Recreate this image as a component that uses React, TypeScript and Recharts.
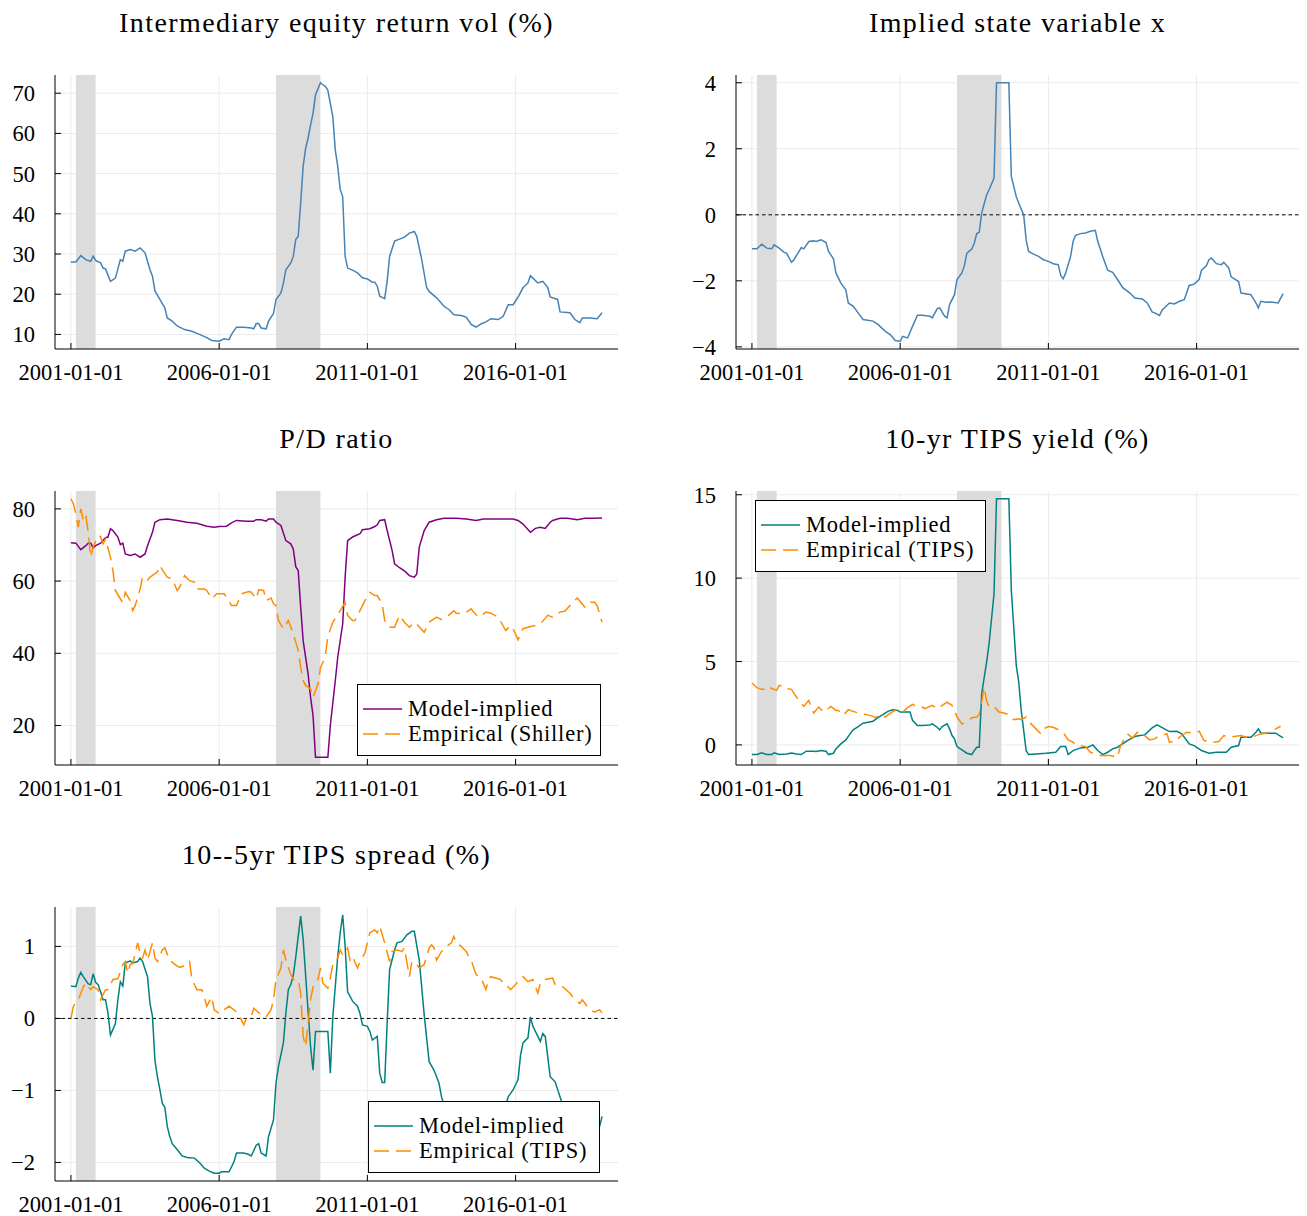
import { LineChart, Line, XAxis, YAxis, CartesianGrid, ReferenceArea, ReferenceLine } from 'recharts'

type Obs = [string, number]

// NBER recessions (start, end)
const recessions: [string, string][] = [
  ['2001-03', '2001-11'],
  ['2007-12', '2009-06'],
]

const dateTicks = ['2001-01', '2006-01', '2011-01', '2016-01']

const equityVol: Obs[] = [
  ['2001-01', 28.0], ['2001-03', 28.0], ['2001-05', 29.6], ['2001-07', 28.6], ['2001-09', 28.2], ['2001-10', 29.5], ['2001-11', 28.4],
  ['2002-01', 27.8], ['2002-02', 26.5], ['2002-03', 26.3], ['2002-05', 23.2], ['2002-07', 24.0], ['2002-09', 28.6], ['2002-10', 28.2], ['2002-11', 30.7],
  ['2003-01', 31.1], ['2003-03', 30.7], ['2003-05', 31.5], ['2003-07', 30.3], ['2003-09', 26.1], ['2003-10', 24.5], ['2003-11', 20.8],
  ['2004-01', 18.7], ['2004-03', 16.6], ['2004-04', 14.1], ['2004-06', 13.3], ['2004-08', 12.1], ['2004-11', 11.2],
  ['2005-02', 10.8], ['2005-05', 10.0], ['2005-08', 9.2], ['2005-10', 8.5],
  ['2006-01', 8.3], ['2006-03', 8.9], ['2006-05', 8.7], ['2006-06', 10.0], ['2006-08', 11.8], ['2006-11', 11.8],
  ['2007-02', 11.6], ['2007-03', 11.4], ['2007-04', 12.7], ['2007-05', 12.7], ['2007-06', 11.6], ['2007-08', 11.4], ['2007-09', 13.3], ['2007-11', 15.2], ['2007-12', 18.7],
  ['2008-02', 20.3], ['2008-03', 22.7], ['2008-04', 26.1], ['2008-06', 27.8], ['2008-07', 29.4], ['2008-08', 33.6], ['2008-09', 34.4], ['2008-10', 42.7], ['2008-11', 51.8], ['2008-12', 56.3],
  ['2009-01', 58.8], ['2009-02', 62.1], ['2009-03', 65.0], ['2009-04', 69.6], ['2009-06', 72.6], ['2009-07', 72.1], ['2009-08', 71.7], ['2009-09', 70.7], ['2009-11', 64.2], ['2009-12', 55.9],
  ['2010-01', 51.8], ['2010-02', 46.0], ['2010-03', 44.3], ['2010-04', 29.4], ['2010-05', 26.5], ['2010-07', 26.0], ['2010-09', 25.3], ['2010-11', 24.1],
  ['2011-01', 23.8], ['2011-03', 23.0], ['2011-04', 23.0], ['2011-05', 22.0], ['2011-06', 19.5], ['2011-08', 18.9], ['2011-09', 23.2], ['2011-10', 29.4], ['2011-12', 33.2],
  ['2012-02', 33.7], ['2012-04', 34.2], ['2012-06', 35.2], ['2012-08', 35.6], ['2012-09', 34.4], ['2012-11', 28.6],
  ['2013-01', 21.6], ['2013-02', 20.7], ['2013-05', 19.1], ['2013-08', 17.0], ['2013-10', 16.2], ['2013-12', 14.9],
  ['2014-03', 14.7], ['2014-05', 14.3], ['2014-07', 12.5], ['2014-09', 11.8], ['2014-11', 12.6],
  ['2015-01', 13.1], ['2015-03', 13.9], ['2015-06', 13.7], ['2015-08', 14.5], ['2015-10', 17.4], ['2015-12', 17.4],
  ['2016-02', 19.3], ['2016-04', 21.6], ['2016-06', 22.8], ['2016-07', 24.6], ['2016-08', 24.0], ['2016-10', 22.8], ['2016-12', 23.2],
  ['2017-02', 21.7], ['2017-03', 19.3], ['2017-06', 18.7], ['2017-07', 15.6], ['2017-11', 15.4],
  ['2018-01', 13.7], ['2018-03', 12.9], ['2018-04', 14.1], ['2018-07', 14.1], ['2018-10', 13.9], ['2018-12', 15.4],
]

const stateX: Obs[] = [
  ['2001-01', -1.03], ['2001-03', -1.03], ['2001-05', -0.89], ['2001-07', -1.01], ['2001-09', -1.03], ['2001-10', -0.91], ['2001-12', -1.01],
  ['2002-02', -1.14], ['2002-03', -1.16], ['2002-05', -1.44], ['2002-06', -1.36], ['2002-09', -0.99], ['2002-10', -1.03], ['2002-12', -0.81],
  ['2003-02', -0.79], ['2003-03', -0.81], ['2003-05', -0.76], ['2003-07', -0.84], ['2003-08', -1.11], ['2003-10', -1.33], ['2003-11', -1.76],
  ['2004-01', -2.07], ['2004-03', -2.27], ['2004-04', -2.67], ['2004-06', -2.77], ['2004-08', -2.97], ['2004-10', -3.17],
  ['2005-02', -3.22], ['2005-04', -3.32], ['2005-07', -3.53], ['2005-09', -3.63], ['2005-11', -3.81],
  ['2006-01', -3.83], ['2006-02', -3.68], ['2006-04', -3.73], ['2006-06', -3.38], ['2006-08', -3.04], ['2006-10', -3.04],
  ['2007-01', -3.07], ['2007-02', -3.12], ['2007-04', -2.84], ['2007-05', -2.82], ['2007-07', -3.07], ['2007-08', -3.12], ['2007-09', -2.72], ['2007-11', -2.42], ['2007-12', -1.96],
  ['2008-02', -1.76], ['2008-03', -1.54], ['2008-04', -1.16], ['2008-06', -1.04], ['2008-07', -0.86], ['2008-08', -0.57], ['2008-09', -0.53], ['2008-10', 0.06], ['2008-12', 0.60],
  ['2009-01', 0.76], ['2009-03', 1.11], ['2009-04', 4.0], ['2009-09', 4.0], ['2009-10', 1.16], ['2009-12', 0.55],
  ['2010-01', 0.35], ['2010-03', 0.0], ['2010-04', -0.76], ['2010-05', -1.11], ['2010-07', -1.19], ['2010-09', -1.26], ['2010-11', -1.36],
  ['2011-01', -1.41], ['2011-03', -1.48], ['2011-05', -1.51], ['2011-06', -1.84], ['2011-07', -1.94], ['2011-08', -1.76], ['2011-10', -1.26], ['2011-11', -0.81], ['2011-12', -0.62],
  ['2012-02', -0.57], ['2012-04', -0.55], ['2012-06', -0.50], ['2012-08', -0.47], ['2012-09', -0.81], ['2012-11', -1.26],
  ['2013-01', -1.68], ['2013-03', -1.74], ['2013-05', -1.96], ['2013-07', -2.20], ['2013-10', -2.37], ['2013-12', -2.52],
  ['2014-03', -2.55], ['2014-05', -2.67], ['2014-07', -2.94], ['2014-08', -2.97], ['2014-10', -3.05], ['2014-11', -2.89],
  ['2015-02', -2.67], ['2015-04', -2.70], ['2015-06', -2.62], ['2015-08', -2.57], ['2015-10', -2.14], ['2015-12', -2.10],
  ['2016-02', -1.96], ['2016-03', -1.68], ['2016-05', -1.54], ['2016-06', -1.36], ['2016-07', -1.31], ['2016-09', -1.48], ['2016-11', -1.51], ['2016-12', -1.44],
  ['2017-02', -1.61], ['2017-03', -1.88], ['2017-06', -2.02], ['2017-07', -2.37], ['2017-11', -2.42],
  ['2018-01', -2.67], ['2018-02', -2.82], ['2018-03', -2.62], ['2018-05', -2.65], ['2018-07', -2.64], ['2018-10', -2.67], ['2018-12', -2.39],
]

const pdModel: Obs[] = [
  ['2001-01', 70.6], ['2001-03', 70.5], ['2001-05', 68.7], ['2001-07', 69.8], ['2001-08', 70.5], ['2001-09', 70.5], ['2001-10', 69.2], ['2001-11', 69.8],
  ['2002-01', 70.5], ['2002-03', 72.0], ['2002-04', 72.2], ['2002-05', 74.5], ['2002-06', 74.0], ['2002-08', 72.2], ['2002-09', 70.1], ['2002-10', 70.5], ['2002-11', 67.5],
  ['2003-01', 67.1], ['2003-03', 67.5], ['2003-05', 66.6], ['2003-07', 67.5], ['2003-08', 69.8], ['2003-10', 73.5], ['2003-11', 76.3],
  ['2004-01', 77.0], ['2004-04', 77.2], ['2004-08', 76.8], ['2004-12', 76.3],
  ['2005-04', 76.0], ['2005-08', 75.2], ['2005-11', 74.9],
  ['2006-01', 75.1], ['2006-04', 75.2], ['2006-06', 76.1], ['2006-08', 76.8], ['2006-12', 76.6],
  ['2007-03', 76.6], ['2007-04', 77.0], ['2007-06', 77.0], ['2007-08', 76.6], ['2007-09', 77.2], ['2007-11', 77.2], ['2007-12', 76.3],
  ['2008-02', 75.4], ['2008-04', 71.2], ['2008-06', 70.3], ['2008-07', 68.9], ['2008-08', 64.0], ['2008-09', 62.9], ['2008-10', 52.8], ['2008-11', 43.5],
  ['2009-01', 34.3], ['2009-02', 27.8], ['2009-03', 22.8], ['2009-04', 11.2], ['2009-09', 11.2], ['2009-10', 20.0], ['2009-12', 32.4],
  ['2010-01', 38.9], ['2010-03', 48.1], ['2010-04', 61.1], ['2010-05', 71.2], ['2010-07', 72.2], ['2010-10', 73.1], ['2010-11', 74.2],
  ['2011-02', 74.5], ['2011-04', 75.1], ['2011-05', 75.6], ['2011-06', 76.8], ['2011-08', 77.0], ['2011-09', 74.0], ['2011-11', 68.5], ['2011-12', 64.8],
  ['2012-02', 63.7], ['2012-04', 62.8], ['2012-06', 61.5], ['2012-08', 61.1], ['2012-09', 62.0], ['2012-10', 69.4], ['2012-12', 74.0],
  ['2013-02', 76.3], ['2013-05', 77.0], ['2013-08', 77.4],
  ['2014-01', 77.4], ['2014-05', 77.2], ['2014-09', 76.8], ['2014-12', 77.2],
  ['2015-07', 77.2], ['2015-12', 77.2],
  ['2016-02', 76.8], ['2016-04', 75.8], ['2016-07', 73.5], ['2016-09', 74.6], ['2016-11', 74.9],
  ['2017-01', 74.6], ['2017-03', 76.3], ['2017-04', 76.8], ['2017-07', 77.4], ['2017-10', 77.4],
  ['2018-02', 77.0], ['2018-05', 77.4], ['2018-09', 77.4], ['2018-12', 77.5],
]

const pdShiller: Obs[] = [
  ['2001-01', 82.8], ['2001-02', 81.4], ['2001-03', 78.6], ['2001-04', 74.9], ['2001-05', 80.0], ['2001-06', 76.8], ['2001-07', 78.2], ['2001-08', 73.5], ['2001-09', 66.6], ['2001-10', 69.4], ['2001-12', 72.6],
  ['2002-01', 72.3], ['2002-02', 70.3], ['2002-03', 71.7], ['2002-05', 66.6], ['2002-06', 62.9], ['2002-07', 57.4], ['2002-09', 55.1], ['2002-10', 53.9], ['2002-11', 56.9],
  ['2003-01', 54.6], ['2003-02', 51.8], ['2003-03', 53.2], ['2003-05', 57.8], ['2003-06', 61.1], ['2003-08', 60.3], ['2003-09', 61.1], ['2003-12', 62.5],
  ['2004-01', 64.3], ['2004-02', 63.1], ['2004-04', 61.1], ['2004-06', 60.6], ['2004-08', 57.4], ['2004-09', 58.3], ['2004-11', 61.5],
  ['2005-01', 60.1], ['2005-03', 59.7], ['2005-04', 57.8], ['2005-07', 57.8], ['2005-08', 57.4], ['2005-10', 55.1], ['2005-12', 56.5],
  ['2006-03', 56.5], ['2006-05', 54.6], ['2006-06', 53.2], ['2006-08', 53.2], ['2006-10', 56.5],
  ['2007-01', 57.1], ['2007-02', 56.9], ['2007-04', 55.1], ['2007-05', 57.6], ['2007-07', 57.4], ['2007-08', 54.6], ['2007-10', 55.3], ['2007-11', 53.7], ['2007-12', 53.2],
  ['2008-01', 49.1], ['2008-03', 46.8], ['2008-05', 49.1], ['2008-07', 45.4], ['2008-09', 40.8], ['2008-10', 36.1], ['2008-11', 32.4], ['2008-12', 31.1],
  ['2009-02', 30.1], ['2009-03', 27.8], ['2009-05', 31.5], ['2009-06', 35.9], ['2009-07', 37.5], ['2009-08', 39.5], ['2009-09', 44.6], ['2009-11', 48.6],
  ['2010-02', 51.8], ['2010-04', 54.1], ['2010-05', 50.5], ['2010-07', 49.1], ['2010-08', 49.1], ['2010-10', 51.8], ['2010-12', 54.6],
  ['2011-02', 56.9], ['2011-04', 56.0], ['2011-05', 56.0], ['2011-07', 53.7], ['2011-08', 49.1], ['2011-10', 47.2], ['2011-12', 47.2],
  ['2012-02', 50.5], ['2012-04', 48.6], ['2012-06', 47.2], ['2012-08', 48.6], ['2012-09', 48.1], ['2012-12', 45.8],
  ['2013-02', 48.6], ['2013-05', 50.0], ['2013-07', 49.3], ['2013-09', 50.0], ['2013-12', 51.8],
  ['2014-01', 51.1], ['2014-04', 50.9], ['2014-07', 52.3], ['2014-08', 51.4], ['2014-10', 50.0],
  ['2015-01', 51.4], ['2015-03', 51.1], ['2015-06', 50.0], ['2015-09', 46.3], ['2015-11', 47.7], ['2015-12', 46.8],
  ['2016-02', 43.7], ['2016-04', 46.8], ['2016-06', 47.2], ['2016-09', 47.7], ['2016-11', 48.1],
  ['2017-02', 50.5], ['2017-04', 50.0], ['2017-07', 51.4], ['2017-09', 51.7], ['2017-11', 53.2], ['2017-12', 54.1],
  ['2018-02', 55.3], ['2018-05', 52.8], ['2018-07', 54.1], ['2018-09', 54.1], ['2018-10', 53.2], ['2018-12', 48.6],
]

const tipsModel: Obs[] = [
  ['2001-01', -0.58], ['2001-03', -0.58], ['2001-05', -0.48], ['2001-07', -0.58], ['2001-09', -0.58], ['2001-10', -0.48], ['2001-12', -0.58],
  ['2002-03', -0.54], ['2002-05', -0.48], ['2002-07', -0.54], ['2002-09', -0.58], ['2002-11', -0.38],
  ['2003-02', -0.38], ['2003-03', -0.40], ['2003-05', -0.34], ['2003-07', -0.38], ['2003-08', -0.58], ['2003-10', -0.50], ['2003-11', -0.24],
  ['2004-01', 0.06], ['2004-03', 0.30], ['2004-05', 0.72], ['2004-06', 0.90], ['2004-08', 1.10], ['2004-10', 1.30], ['2004-12', 1.36],
  ['2005-02', 1.42], ['2005-04', 1.63], ['2005-06', 1.81], ['2005-08', 2.01], ['2005-10', 2.11], ['2005-12', 2.07],
  ['2006-01', 1.97], ['2006-05', 1.97], ['2006-06', 1.47], ['2006-08', 1.16], ['2006-10', 1.16],
  ['2007-01', 1.20], ['2007-02', 1.26], ['2007-04', 1.06], ['2007-05', 0.90], ['2007-06', 1.10], ['2007-08', 1.26], ['2007-09', 0.96], ['2007-10', 0.56], ['2007-11', 0.36], ['2007-12', -0.10],
  ['2008-02', -0.30], ['2008-04', -0.50], ['2008-06', -0.58], ['2008-07', -0.34], ['2008-08', -0.14], ['2008-09', -0.14], ['2008-10', 3.07], ['2008-12', 4.97],
  ['2009-01', 6.08], ['2009-03', 9.08], ['2009-04', 14.76], ['2009-09', 14.76], ['2009-10', 9.28], ['2009-12', 4.77],
  ['2010-01', 3.77], ['2010-02', 2.07], ['2010-04', -0.34], ['2010-05', -0.58], ['2010-08', -0.54], ['2010-12', -0.50],
  ['2011-04', -0.44], ['2011-06', -0.10], ['2011-08', -0.10], ['2011-09', -0.58], ['2011-11', -0.34],
  ['2012-02', -0.18], ['2012-05', -0.14], ['2012-07', 0.00], ['2012-09', -0.34], ['2012-11', -0.58],
  ['2013-01', -0.44], ['2013-03', -0.24], ['2013-05', -0.14], ['2013-07', 0.06], ['2013-09', 0.26], ['2013-12', 0.50],
  ['2014-02', 0.56], ['2014-04', 0.60], ['2014-07', 1.02], ['2014-09', 1.20], ['2014-12', 0.96],
  ['2015-02', 0.80], ['2015-05', 0.82], ['2015-07', 0.66], ['2015-10', 0.06], ['2015-12', -0.04],
  ['2016-03', -0.34], ['2016-06', -0.50], ['2016-09', -0.44],
  ['2017-01', -0.44], ['2017-03', -0.14], ['2017-06', -0.04], ['2017-07', 0.46], ['2017-11', 0.46],
  ['2018-01', 0.76], ['2018-02', 0.96], ['2018-03', 0.70], ['2018-05', 0.70], ['2018-09', 0.70], ['2018-12', 0.42],
]

const tipsEmpirical: Obs[] = [
  ['2001-01', 3.71], ['2001-03', 3.43], ['2001-05', 3.33], ['2001-06', 3.33], ['2001-07', 3.51], ['2001-11', 3.27], ['2001-12', 3.57],
  ['2002-01', 3.53], ['2002-03', 3.37], ['2002-05', 3.33], ['2002-07', 2.87], ['2002-10', 2.31], ['2002-12', 2.67],
  ['2003-02', 1.91], ['2003-04', 2.27], ['2003-06', 1.97], ['2003-09', 2.31], ['2003-11', 2.07], ['2003-12', 2.07],
  ['2004-02', 1.77], ['2004-04', 2.11], ['2004-06', 2.01], ['2004-09', 1.87], ['2004-11', 1.83],
  ['2005-02', 1.71], ['2005-03', 1.63], ['2005-05', 1.83], ['2005-07', 1.67], ['2005-09', 1.91], ['2005-11', 2.07],
  ['2006-01', 2.07], ['2006-02', 1.97], ['2006-04', 2.23], ['2006-06', 2.43], ['2006-08', 2.27], ['2006-10', 2.27], ['2006-11', 2.17],
  ['2007-02', 2.37], ['2007-04', 2.17], ['2007-05', 2.27], ['2007-08', 2.57], ['2007-10', 2.37], ['2007-11', 2.07], ['2007-12', 1.67],
  ['2008-02', 1.26], ['2008-04', 1.36], ['2008-06', 1.63], ['2008-08', 1.67], ['2008-09', 1.83], ['2008-10', 2.57], ['2008-11', 3.47], ['2008-12', 2.63],
  ['2009-01', 2.27], ['2009-03', 2.30], ['2009-05', 1.97], ['2009-07', 1.91], ['2009-09', 1.81], ['2009-11', 1.51],
  ['2010-01', 1.57], ['2010-02', 1.51], ['2010-04', 1.67], ['2010-06', 1.26], ['2010-10', 0.66], ['2010-11', 0.96],
  ['2011-01', 1.10], ['2011-03', 1.06], ['2011-07', 0.76], ['2011-09', 0.30], ['2011-11', 0.16], ['2011-12', 0.00],
  ['2012-04', -0.10], ['2012-06', -0.44], ['2012-08', -0.54], ['2012-09', -0.64],
  ['2013-02', -0.64], ['2013-05', -0.74], ['2013-06', -0.14], ['2013-08', 0.46], ['2013-09', 0.66], ['2013-11', 0.42],
  ['2014-01', 0.76], ['2014-04', 0.56], ['2014-06', 0.30], ['2014-08', 0.36], ['2014-10', 0.56],
  ['2015-01', 0.66], ['2015-02', 0.16], ['2015-05', 0.22], ['2015-06', 0.46], ['2015-09', 0.76], ['2015-12', 0.70],
  ['2016-02', 0.82], ['2016-04', 0.26], ['2016-08', 0.16], ['2016-10', 0.20], ['2016-12', 0.56],
  ['2017-02', 0.46], ['2017-07', 0.56], ['2017-09', 0.46], ['2017-12', 0.50],
  ['2018-03', 0.66], ['2018-05', 0.70], ['2018-07', 0.82], ['2018-09', 0.96], ['2018-11', 1.12],
]

const spreadModel: Obs[] = [
  ['2001-01', 0.45], ['2001-03', 0.44], ['2001-04', 0.56], ['2001-05', 0.64], ['2001-06', 0.58], ['2001-08', 0.48], ['2001-09', 0.47], ['2001-10', 0.62], ['2001-11', 0.50], ['2001-12', 0.47],
  ['2002-01', 0.37], ['2002-02', 0.26], ['2002-03', 0.26], ['2002-04', 0.07], ['2002-05', -0.23], ['2002-07', -0.07], ['2002-08', 0.26], ['2002-09', 0.51], ['2002-10', 0.45], ['2002-11', 0.77],
  ['2003-01', 0.80], ['2003-02', 0.77], ['2003-04', 0.79], ['2003-05', 0.84], ['2003-06', 0.79], ['2003-08', 0.58], ['2003-09', 0.21], ['2003-10', 0.03], ['2003-11', -0.58], ['2003-12', -0.81],
  ['2004-01', -0.99], ['2004-02', -1.18], ['2004-03', -1.23], ['2004-04', -1.50], ['2004-05', -1.64], ['2004-06', -1.74], ['2004-08', -1.82], ['2004-10', -1.91], ['2004-12', -1.93],
  ['2005-03', -1.94], ['2005-05', -2.00], ['2005-07', -2.08], ['2005-09', -2.12], ['2005-11', -2.15],
  ['2006-01', -2.15], ['2006-02', -2.13], ['2006-05', -2.13], ['2006-07', -1.99], ['2006-08', -1.87], ['2006-11', -1.87],
  ['2007-01', -1.89], ['2007-02', -1.91], ['2007-04', -1.76], ['2007-05', -1.74], ['2007-06', -1.87], ['2007-08', -1.91], ['2007-09', -1.64], ['2007-11', -1.41], ['2007-12', -0.90],
  ['2008-01', -0.67], ['2008-03', -0.34], ['2008-04', 0.07], ['2008-05', 0.40], ['2008-06', 0.47], ['2008-07', 0.60], ['2008-08', 0.85], ['2008-09', 1.14], ['2008-10', 1.42], ['2008-11', 1.10], ['2008-12', 0.60],
  ['2009-01', 0.10], ['2009-02', -0.39], ['2009-03', -0.72], ['2009-04', -0.18], ['2009-09', -0.18], ['2009-10', -0.76], ['2009-11', 0.02],
  ['2010-01', 0.86], ['2010-02', 1.19], ['2010-03', 1.44], ['2010-04', 1.00], ['2010-05', 0.37], ['2010-07', 0.24], ['2010-09', 0.17], ['2010-10', 0.07], ['2010-11', -0.09],
  ['2011-01', -0.11], ['2011-02', -0.18], ['2011-03', -0.30], ['2011-05', -0.25], ['2011-06', -0.76], ['2011-07', -0.89], ['2011-08', -0.89], ['2011-09', -0.07], ['2011-10', 0.68], ['2011-12', 0.95],
  ['2012-01', 1.05], ['2012-03', 1.07], ['2012-05', 1.16], ['2012-07', 1.21], ['2012-08', 1.21], ['2012-10', 0.81], ['2012-12', 0.05],
  ['2013-02', -0.60], ['2013-04', -0.72], ['2013-06', -0.90], ['2013-07', -1.09], ['2013-09', -1.30], ['2013-12', -1.60],
  ['2014-05', -1.85], ['2014-10', -1.90],
  ['2015-03', -1.70], ['2015-08', -1.30], ['2015-10', -1.09], ['2015-12', -0.99],
  ['2016-02', -0.85], ['2016-03', -0.51], ['2016-04', -0.34], ['2016-06', -0.27], ['2016-07', 0.02], ['2016-08', -0.11], ['2016-10', -0.25], ['2016-11', -0.32], ['2016-12', -0.21],
  ['2017-01', -0.25], ['2017-02', -0.53], ['2017-03', -0.81], ['2017-05', -0.88], ['2017-07', -1.09], ['2017-10', -1.40],
  ['2018-02', -1.75], ['2018-06', -1.80], ['2018-09', -1.65], ['2018-11', -1.50], ['2018-12', -1.36],
]

const spreadEmpirical: Obs[] = [
  ['2001-01', 0.00], ['2001-02', 0.17], ['2001-04', 0.26], ['2001-06', 0.44], ['2001-07', 0.49], ['2001-09', 0.40], ['2001-10', 0.44], ['2001-12', 0.40],
  ['2002-01', 0.26], ['2002-03', 0.40], ['2002-04', 0.40], ['2002-06', 0.54], ['2002-08', 0.55], ['2002-10', 0.75], ['2002-11', 0.79], ['2002-12', 0.63],
  ['2003-01', 0.75], ['2003-02', 0.76], ['2003-04', 1.05], ['2003-05', 0.90], ['2003-06', 0.84], ['2003-07', 0.95], ['2003-08', 0.81], ['2003-10', 1.05], ['2003-11', 0.84], ['2003-12', 0.79],
  ['2004-02', 0.95], ['2004-03', 0.98], ['2004-05', 0.81], ['2004-07', 0.75], ['2004-09', 0.71], ['2004-11', 0.73],
  ['2005-01', 0.79], ['2005-02', 0.54], ['2005-04', 0.40], ['2005-06', 0.40], ['2005-08', 0.17], ['2005-10', 0.30], ['2005-11', 0.12],
  ['2006-01', 0.07], ['2006-05', 0.17], ['2006-07', 0.12], ['2006-09', 0.05], ['2006-11', -0.09], ['2006-12', 0.00],
  ['2007-02', 0.03], ['2007-03', 0.14], ['2007-06', 0.05], ['2007-07', 0.03], ['2007-08', 0.02], ['2007-10', 0.12], ['2007-11', 0.26], ['2007-12', 0.54],
  ['2008-02', 0.70], ['2008-03', 0.95], ['2008-04', 0.81], ['2008-06', 0.61], ['2008-07', 0.54], ['2008-09', 0.54], ['2008-10', 0.35], ['2008-11', -0.25], ['2008-12', -0.39],
  ['2009-02', 0.26], ['2009-03', 0.44], ['2009-05', 0.54], ['2009-06', 0.70], ['2009-07', 0.49], ['2009-09', 0.42], ['2009-10', 0.56], ['2009-11', 0.75],
  ['2010-01', 0.84], ['2010-02', 0.95], ['2010-03', 0.88], ['2010-05', 0.98], ['2010-06', 0.81], ['2010-07', 0.86], ['2010-09', 0.70], ['2010-10', 0.79], ['2010-12', 0.91],
  ['2011-02', 1.19], ['2011-04', 1.23], ['2011-05', 1.19], ['2011-06', 1.28], ['2011-08', 1.05], ['2011-10', 0.79], ['2011-11', 0.93],
  ['2012-01', 0.95], ['2012-03', 0.93], ['2012-04', 0.98], ['2012-06', 0.58], ['2012-07', 0.79], ['2012-09', 0.75], ['2012-10', 0.70], ['2012-12', 0.75],
  ['2013-02', 0.98], ['2013-03', 1.02], ['2013-04', 0.98], ['2013-05', 0.81], ['2013-07', 0.93], ['2013-08', 0.95], ['2013-09', 1.00], ['2013-11', 1.05], ['2013-12', 1.14],
  ['2014-01', 1.05], ['2014-03', 1.00], ['2014-05', 0.93], ['2014-06', 0.86], ['2014-07', 0.81], ['2014-09', 0.61], ['2014-11', 0.56],
  ['2015-01', 0.40], ['2015-02', 0.54], ['2015-03', 0.58], ['2015-07', 0.54], ['2015-08', 0.47], ['2015-10', 0.44], ['2015-11', 0.40],
  ['2016-02', 0.51], ['2016-03', 0.54], ['2016-04', 0.58], ['2016-06', 0.51], ['2016-08', 0.54], ['2016-10', 0.35], ['2016-11', 0.49],
  ['2017-01', 0.54], ['2017-04', 0.56], ['2017-05', 0.47], ['2017-08', 0.44], ['2017-11', 0.35],
  ['2018-01', 0.26], ['2018-03', 0.21], ['2018-04', 0.26], ['2018-07', 0.12], ['2018-09', 0.09], ['2018-11', 0.12], ['2018-12', 0.08],
]

const STEEL = '#4682b4'
const PURPLE = '#800080'
const TEAL = '#008080'
const ORANGE = '#ff8c00'
const DASH = '15 7'
const FONT = "'Liberation Serif', 'Times New Roman', serif"

const toYear = (s: string) => {
  const [y, m] = s.split('-').map(Number)
  return y + (m - 1) / 12
}
const toRows = (obs: Obs[]) => obs.map(([d, v]) => ({ t: toYear(d), v }))

// plots.jl style: 3% padding on each side of the data range
const padded = (vals: number[]): [number, number] => {
  const lo = Math.min(...vals)
  const hi = Math.max(...vals)
  const p = (hi - lo) * 0.03
  return [lo - p, hi + p]
}

const xDomain = padded(equityVol.map(([d]) => toYear(d)))

const fmtDate = (v: number) => {
  const y = Math.floor(v + 1e-6)
  const m = Math.round((v - y) * 12) + 1
  return `${y}-${String(m).padStart(2, '0')}-01`
}
const fmtNum = (v: number) => (v < 0 ? `\u2212${-v}` : `${v}`)

const tickStyle = { fontFamily: FONT, fontSize: 22.5, fill: '#000' }

function DateTick(props: any) {
  const { x, y, payload } = props
  return (
    <g>
      <line x1={x} x2={x} y1={y - 15} y2={y - 21} stroke="#000" />
      <text x={x} y={y} dy="0.71em" textAnchor="middle" style={tickStyle}>{fmtDate(payload.value)}</text>
    </g>
  )
}

function ValueTick(props: any) {
  const { x, y, payload } = props
  return (
    <g>
      <line x1={x + 20} x2={x + 26} y1={y} y2={y} stroke="#000" />
      <text x={x} y={y} dy="0.355em" textAnchor="end" style={tickStyle}>{fmtNum(payload.value)}</text>
    </g>
  )
}

type Series = { name: string; obs: Obs[]; color: string; dashed?: boolean }

type PanelProps = {
  left: number
  top: number
  width: number
  series: Series[]
  yTicks: number[]
  zeroLine?: boolean
  legend?: { left: number; top: number; width: number }
}

const PLOT_W = 563
const PLOT_H = 274
const M_TOP = 75
const Y_W = 55
const X_H = 40

function Panel({ left, top, width, series, yTicks, zeroLine, legend }: PanelProps) {
  const yDomain = padded(series.flatMap((s) => s.obs.map(([, v]) => v)))
  return (
    <div style={{ position: 'absolute', left, top, width, height: M_TOP + PLOT_H + X_H }}>
      <LineChart
        width={width}
        height={M_TOP + PLOT_H + X_H}
        margin={{ top: M_TOP, right: width - Y_W - PLOT_W, bottom: 0, left: 0 }}
      >
        <CartesianGrid stroke="#ebebeb" syncWithTicks />
        <XAxis
          type="number"
          dataKey="t"
          domain={xDomain}
          allowDataOverflow
          ticks={dateTicks.map(toYear)}
          tick={<DateTick />}
          tickLine={false}
          tickSize={0}
          tickMargin={15}
          height={X_H}
          axisLine={{ stroke: '#000' }}
        />
        <YAxis
          type="number"
          domain={yDomain}
          allowDataOverflow
          ticks={yTicks}
          tick={<ValueTick />}
          tickLine={false}
          tickSize={0}
          tickMargin={20}
          width={Y_W}
          axisLine={{ stroke: '#000' }}
        />
        {recessions.map(([a, b]) => (
          <ReferenceArea key={a} x1={toYear(a)} x2={toYear(b)} fill="#dcdcdc" fillOpacity={1} stroke="none" />
        ))}
        {zeroLine && <ReferenceLine y={0} stroke="#000" strokeDasharray="3.5 3" />}
        {series.map((s) => (
          <Line
            key={s.name}
            data={toRows(s.obs)}
            dataKey="v"
            name={s.name}
            type="linear"
            stroke={s.color}
            strokeWidth={1.5}
            strokeDasharray={s.dashed ? DASH : undefined}
            dot={false}
            activeDot={false}
            isAnimationActive={false}
          />
        ))}
      </LineChart>
      {legend && (
        <div
          style={{
            position: 'absolute',
            left: legend.left,
            top: legend.top,
            width: legend.width,
            height: 72,
            boxSizing: 'border-box',
            border: '1px solid #000',
            background: '#fff',
          }}
        >
          {series.map((s, i) => (
            <div
              key={s.name}
              style={{
                position: 'absolute',
                left: 5,
                top: 11 + i * 25,
                height: 25,
                display: 'flex',
                alignItems: 'center',
                whiteSpace: 'nowrap',
              }}
            >
              <svg width={39} height={4} style={{ marginRight: 6 }}>
                <line x1={0} x2={39} y1={2} y2={2} stroke={s.color} strokeWidth={1.5} strokeDasharray={s.dashed ? DASH : undefined} />
              </svg>
              <span style={{ fontFamily: FONT, fontSize: 22.5, letterSpacing: 0.8, lineHeight: '25px' }}>{s.name}</span>
            </div>
          ))}
        </div>
      )}
    </div>
  )
}

const titles = [
  { text: 'Intermediary equity return vol (%)', x: 336.5, y: 32 },
  { text: 'Implied state variable x', x: 1017.5, y: 32 },
  { text: 'P/D ratio', x: 336.5, y: 448 },
  { text: '10-yr TIPS yield (%)', x: 1017.5, y: 448 },
  { text: '10--5yr TIPS spread (%)', x: 336.5, y: 864 },
]

export default function App() {
  return (
    <div style={{ position: 'absolute', left: 0, top: 0, width: 1307, height: 1216, background: '#fff' }}>
      <Panel left={0} top={0} width={653} yTicks={[10, 20, 30, 40, 50, 60, 70]}
        series={[{ name: 'Equity vol', obs: equityVol, color: STEEL }]} />
      <Panel left={681} top={0} width={626} yTicks={[-4, -2, 0, 2, 4]} zeroLine
        series={[{ name: 'State x', obs: stateX, color: STEEL }]} />
      <Panel left={0} top={416} width={653} yTicks={[20, 40, 60, 80]}
        legend={{ left: 357, top: 268, width: 244 }}
        series={[
          { name: 'Model-implied', obs: pdModel, color: PURPLE },
          { name: 'Empirical (Shiller)', obs: pdShiller, color: ORANGE, dashed: true },
        ]} />
      <Panel left={681} top={416} width={626} yTicks={[0, 5, 10, 15]}
        legend={{ left: 74, top: 84, width: 231 }}
        series={[
          { name: 'Model-implied', obs: tipsModel, color: TEAL },
          { name: 'Empirical (TIPS)', obs: tipsEmpirical, color: ORANGE, dashed: true },
        ]} />
      <Panel left={0} top={832} width={653} yTicks={[-2, -1, 0, 1]} zeroLine
        legend={{ left: 368, top: 269, width: 232 }}
        series={[
          { name: 'Model-implied', obs: spreadModel, color: TEAL },
          { name: 'Empirical (TIPS)', obs: spreadEmpirical, color: ORANGE, dashed: true },
        ]} />
      <svg width={1307} height={1216} style={{ position: 'absolute', left: 0, top: 0, pointerEvents: 'none' }}>
        {titles.map((t) => (
          <text key={t.text} x={t.x} y={t.y} textAnchor="middle" style={{ fontFamily: FONT, fontSize: 28, letterSpacing: 1.4, fill: '#000' }}>
            {t.text}
          </text>
        ))}
      </svg>
    </div>
  )
}
